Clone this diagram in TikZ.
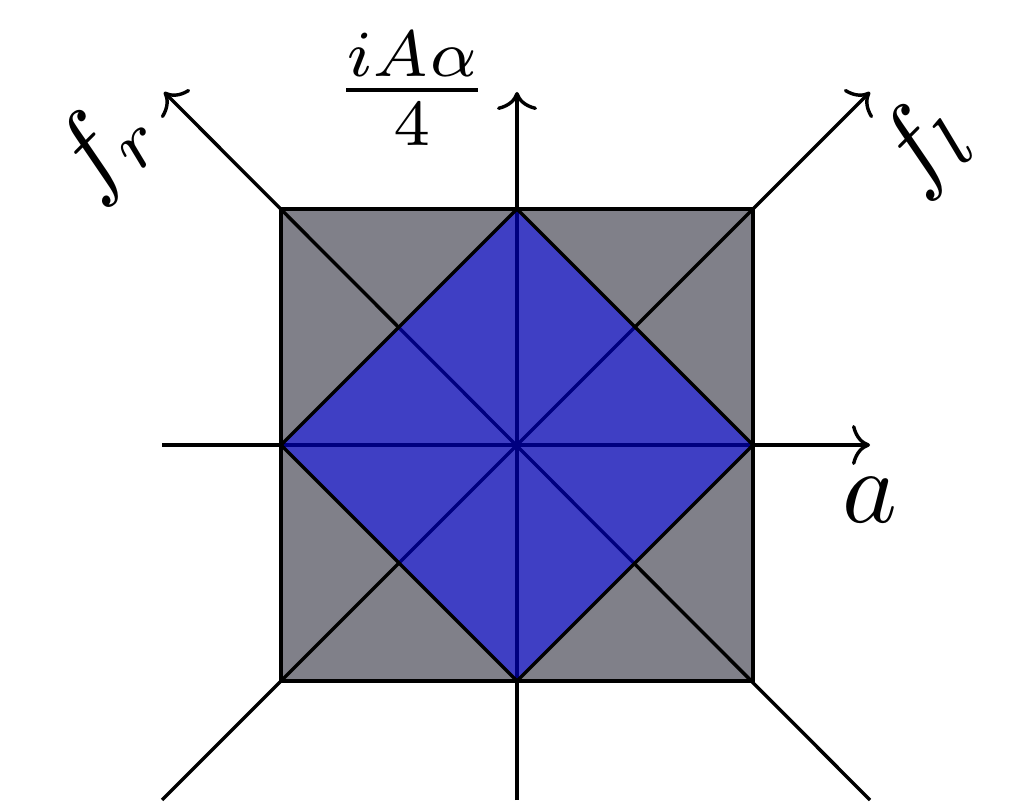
\documentclass[tikz,border=0pt]{standalone}
\usepackage{amsmath}
\usetikzlibrary{arrows.meta}
\definecolor{sqgray}{RGB}{128,128,137}
\begin{document}
\begin{tikzpicture}[x=0.25pt,y=-0.25pt,
  line width=0.85pt,
  axisline/.style={draw=black,line width=0.85pt},
  axistip/.style={-{To[length=4.5pt,width=10pt]}},
  lbl/.style={inner sep=0pt,scale=2.6}]
\useasboundingbox (0,0) rectangle (1030,802);
% key points
\coordinate (O) at (517,445);
\coordinate (TL) at (281,209);
\coordinate (TR) at (753,209);
\coordinate (BR) at (753,681);
\coordinate (BL) at (281,681);
\coordinate (T) at (517,209);
\coordinate (R) at (753,445);
\coordinate (B) at (517,681);
\coordinate (L) at (281,445);
% axis ends
\coordinate (aR) at (870,445);
\coordinate (aL) at (162,445);
\coordinate (aU) at (517,92);
\coordinate (aD) at (517,800);
\coordinate (dUR) at (870,92);
\coordinate (dDL) at (162,800);
\coordinate (dUL) at (164,92);
\coordinate (dDR) at (870,800);
% gray square
\fill[sqgray] (TL) rectangle (BR);
% axes
\draw[axisline,axistip] (aL) -- (aR);
\draw[axisline,axistip] (aD) -- (aU);
\draw[axisline,axistip] (dDL) -- (dUR);
\draw[axisline,axistip] (dDR) -- (dUL);
% blue diamond
\fill[blue,fill opacity=0.5] (T) -- (R) -- (B) -- (L) -- cycle;
% outlines
\draw[axisline] (TL) rectangle (BR);
\draw[axisline] (T) -- (R) -- (B) -- (L) -- cycle;
% labels
\node[lbl,scale=0.9] (lfrac) at (412,89) {$\frac{iA\alpha}{4}$};
\node[lbl] (la) at (870,500) {$a$};
\node[lbl,rotate=45] (lfr) at (106,147) {$f_r$};
\node[lbl,rotate=45] (lfl) at (925,146) {$f_l$};
\end{tikzpicture}
\end{document}
